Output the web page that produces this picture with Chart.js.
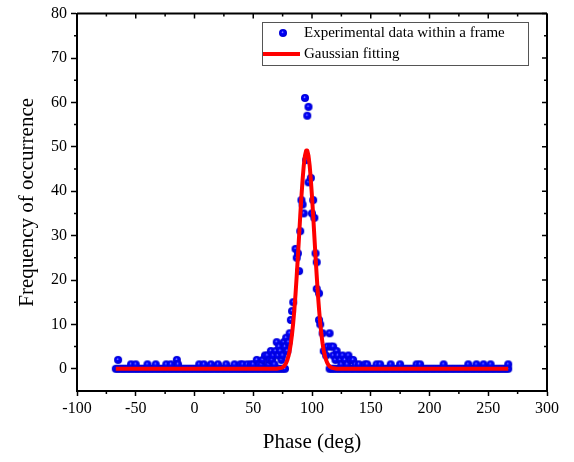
<!DOCTYPE html>
<html>
<head>
<meta charset="utf-8">
<script src="https://cdn.jsdelivr.net/npm/chart.js@4.4.0/dist/chart.umd.min.js"></script>
<style>
  html, body { margin: 0; padding: 0; background: #fff; }
  #wrap { width: 574px; height: 462px; position: relative; }
</style>
</head>
<body>
<div id="wrap"><canvas id="chart"></canvas></div>
<script>
// tick labels
const xTicks = [-100, -50, 0, 50, 100, 150, 200, 250, 300];
const yTicks = [0, 10, 20, 30, 40, 50, 60, 70, 80];

// phases (deg) where the count is zero
const zeroPhase = [
  -67, -65, -63, -61, -59, -57, -55, -53, -51, -49, -47, -45, -43, -41, -39, -37, -35, -33, -31, -29,
  -27, -25, -23, -21, -19, -17, -15, -13, -11, -9, -7, -5, -3, -1, 1, 3, 5, 7, 9, 11,
  13, 15, 17, 19, 21, 23, 25, 27, 29, 31, 33, 35, 37, 39, 41, 43, 45, 47, 49, 51,
  53, 55, 57, 59, 61, 63, 65, 67, 69, 71, 73, 75, 77,
  115, 117, 119, 121, 123, 125, 127, 129, 131, 133, 135, 137, 139, 141, 143, 145, 147, 149, 151, 153,
  155, 157, 159, 161, 163, 165, 167, 169, 171, 173, 175, 177, 179, 181, 183, 185, 187, 189, 191, 193,
  195, 197, 199, 201, 203, 205, 207, 209, 211, 213, 215, 217, 219, 221, 223, 225, 227, 229, 231, 233,
  235, 237, 239, 241, 243, 245, 247, 249, 251, 253, 255, 257, 259, 261, 263, 265, 267
];

// phases (deg) and counts where the count is non-zero
const hitPhase = [
  -65, -54, -50, -40, -33, -24, -20, -15, -14, 4, 8, 14, 20, 27, 34, 39, 41, 45, 48,
  50, 53, 55, 57, 58, 60, 62, 63, 64, 65, 66, 67, 68, 69, 70, 71, 72, 73, 74, 75, 76, 77, 78, 79, 80,
  81, 82, 83, 84, 86, 87, 88, 89, 90, 91, 92, 93, 94, 95, 96, 97, 97, 99, 100, 101, 102, 103, 104,
  104, 106, 106, 107, 109, 110, 112, 113, 115, 116, 118, 118, 120, 121, 122, 124, 125, 126, 128, 130,
  131, 133, 135, 137, 140, 145, 147, 155, 158, 167, 175, 189, 192, 212, 233, 240, 246, 252, 267
];
const hitCount = [
  2, 1, 1, 1, 1, 1, 1, 2, 1, 1, 1, 1, 1, 1, 1, 1, 1, 1, 1,
  1, 2, 1, 1, 2, 3, 3, 1, 2, 4, 2, 3, 1, 4, 6, 3, 5, 4, 2, 3, 6, 5, 7, 4, 6,
  8, 11, 13, 15, 27, 25, 26, 22, 31, 38, 37, 35, 61, 47, 57, 59, 42, 43, 35, 38, 34, 26, 24,
  18, 17, 11, 10, 8, 4, 3, 5, 8, 5, 5, 3, 2, 4, 3, 2, 1, 3, 2, 1,
  3, 2, 2, 1, 1, 1, 1, 1, 1, 1, 1, 1, 1, 1, 1, 1, 1, 1, 1
];

// Gaussian fitting curve
const fitPhase = [
  -67, 60, 70, 74, 75, 76, 77, 78, 79, 80, 81, 82, 83, 84, 85, 86, 87, 88, 89, 90, 91, 92, 93, 94, 95,
  96, 97, 98, 99, 100, 101, 102, 103, 104, 105, 106, 107, 108, 109, 110, 111, 112, 113, 114, 115, 116, 117,
  121, 130, 267
];
const fitValue = [
  0, 0, 0.02, 0.21, 0.34, 0.55, 0.86, 1.32, 1.97, 2.88, 4.09, 5.7, 7.76, 10.3, 13.4, 16.9, 21.0, 25.3, 29.9, 34.5, 38.8, 42.6, 45.8, 48.0, 49.15,
  49.15, 48.0, 45.8, 42.6, 38.8, 34.5, 29.9, 25.3, 21.0, 16.9, 13.4, 10.3, 7.76, 5.7, 4.09, 2.88, 1.97, 1.32, 0.86, 0.55, 0.34, 0.21,
  0.02, 0, 0
];

const FONT = '"Liberation Serif", "Times New Roman", serif';

// shaded ball marker
function makeSphere(r) {
  const c = document.createElement('canvas');
  c.width = c.height = r * 2 + 2;
  const g = c.getContext('2d');
  const cx = r + 1, cy = r + 1;
  const grd = g.createRadialGradient(cx - 0.6, cy - 1, 0.1, cx, cy, r);
  grd.addColorStop(0, '#d8d8ff');
  grd.addColorStop(0.12, '#5050ff');
  grd.addColorStop(0.32, '#0000ff');
  grd.addColorStop(1, '#0000d0');
  g.fillStyle = grd;
  g.beginPath();
  g.arc(cx, cy, r, 0, Math.PI * 2);
  g.fill();
  return c;
}
const sphere = makeSphere(4);

const scatterData = zeroPhase.map(p => ({ x: p, y: 0 }))
  .concat(hitPhase.map((p, i) => ({ x: p, y: hitCount[i] })));
const fitData = fitPhase.map((p, i) => ({ x: p, y: fitValue[i] }));

const frame = {
  id: 'frame',
  afterDraw(chart) {
    const ctx = chart.ctx;
    const { left, right, top, bottom } = chart.chartArea;
    const xs = chart.scales.x, ys = chart.scales.y;
    ctx.save();
    ctx.strokeStyle = '#000';
    ctx.lineWidth = 2;
    ctx.beginPath();
    ctx.moveTo(left, top); ctx.lineTo(right, top);
    ctx.moveTo(right, top); ctx.lineTo(right, bottom);
    ctx.stroke();

    ctx.lineWidth = 1.5;
    ctx.beginPath();
    // top and right: inward major ticks
    xTicks.forEach(v => {
      const px = xs.getPixelForValue(v);
      ctx.moveTo(px, top); ctx.lineTo(px, top + 5);
    });
    yTicks.forEach(v => {
      const py = ys.getPixelForValue(v);
      ctx.moveTo(right, py); ctx.lineTo(right - 5, py);
    });
    // minor ticks
    for (let i = 0; i < xTicks.length - 1; i++) {
      const px = xs.getPixelForValue((xTicks[i] + xTicks[i + 1]) / 2);
      ctx.moveTo(px, bottom); ctx.lineTo(px, bottom + 3);
      ctx.moveTo(px, top); ctx.lineTo(px, top + 3);
    }
    for (let i = 0; i < yTicks.length - 1; i++) {
      const py = ys.getPixelForValue((yTicks[i] + yTicks[i + 1]) / 2);
      ctx.moveTo(left, py); ctx.lineTo(left - 3, py);
      ctx.moveTo(right, py); ctx.lineTo(right - 3, py);
    }
    ctx.stroke();

    // legend
    ctx.lineWidth = 1;
    ctx.strokeStyle = '#555';
    ctx.strokeRect(262.5, 22.5, 266, 43);
    ctx.drawImage(sphere, 283 - sphere.width / 2, 33 - sphere.height / 2);
    ctx.strokeStyle = '#ff0000';
    ctx.lineWidth = 4;
    ctx.beginPath();
    ctx.moveTo(263, 54); ctx.lineTo(300, 54);
    ctx.stroke();
    ctx.fillStyle = '#000';
    ctx.font = '15px ' + FONT;
    ctx.textBaseline = 'middle';
    ctx.textAlign = 'left';
    ctx.fillText('Experimental data within a frame', 304, 33);
    ctx.fillText('Gaussian fitting', 304, 54);
    ctx.restore();
  }
};

new Chart(document.getElementById('chart'), {
  type: 'scatter',
  data: {
    datasets: [
      {
        type: 'line',
        label: 'Gaussian fitting',
        data: fitData,
        borderColor: '#ff0000',
        borderWidth: 4,
        borderJoinStyle: 'round',
        pointRadius: 0,
        tension: 0,
        fill: false,
        order: 0
      },
      {
        label: 'Experimental data within a frame',
        data: scatterData,
        pointStyle: sphere,
        pointRadius: 4,
        order: 1
      }
    ]
  },
  options: {
    responsive: true,
    maintainAspectRatio: false,
    animation: false,
    layout: { padding: { top: 11, right: 27, left: 0, bottom: 0 } },
    plugins: {
      legend: { display: false },
      tooltip: { enabled: false }
    },
    scales: {
      x: {
        type: 'linear',
        min: -100,
        max: 300,
        afterFit: s => { s.height = 71; },
        afterBuildTicks: s => { s.ticks = xTicks.map(v => ({ value: v })); },
        border: { color: '#000', width: 2 },
        grid: { drawOnChartArea: false, drawTicks: true, tickLength: 5, tickWidth: 1.5, tickColor: '#000' },
        ticks: { color: '#000', font: { family: FONT, size: 16 }, padding: 3, maxRotation: 0 },
        title: { display: true, text: 'Phase (deg)', color: '#000', font: { family: FONT, size: 21 }, padding: { top: 0, bottom: 7 } }
      },
      y: {
        type: 'linear',
        min: -5,
        max: 80,
        afterFit: s => { s.width = 77; },
        afterBuildTicks: s => { s.ticks = yTicks.map(v => ({ value: v })); },
        border: { color: '#000', width: 2 },
        grid: { drawOnChartArea: false, drawTicks: true, tickLength: 6, tickWidth: 1.5, tickColor: '#000' },
        ticks: { color: '#000', font: { family: FONT, size: 16 }, padding: 4 },
        title: { display: true, text: 'Frequency of occurrence', color: '#000', font: { family: FONT, size: 21 }, padding: { top: 15, bottom: 0 } }
      }
    }
  },
  plugins: [frame]
});
</script>
</body>
</html>
